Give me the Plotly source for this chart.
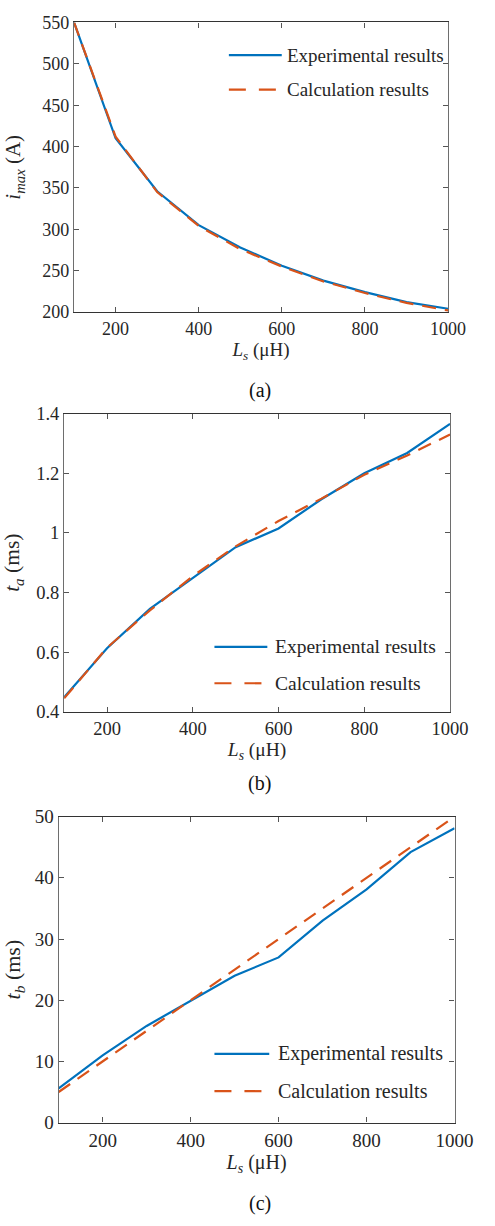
import plotly.graph_objects as go

# ---------------- data ----------------
Ls = [100, 200, 300, 400, 500, 600, 700, 800, 900, 1000]

imax_exp = [550, 410, 346, 305, 278, 256, 238, 224, 212, 204]
imax_calc = [550, 412, 345, 304, 276, 255, 237, 223, 211, 202]

ta_exp = [0.449, 0.613, 0.745, 0.847, 0.952, 1.015, 1.113, 1.200, 1.268, 1.366]
ta_calc = [0.445, 0.615, 0.740, 0.855, 0.955, 1.040, 1.115, 1.195, 1.260, 1.330]

tb_exp = [5.6, 11.0, 15.8, 19.9, 24.0, 27.0, 33.0, 38.1, 44.2, 48.1]
tb_calc = [5.0, 10.0, 15.0, 20.0, 25.0, 30.0, 35.0, 40.0, 45.0, 50.0]

x_ticks = [200, 400, 600, 800, 1000]
ya_ticks = [200, 250, 300, 350, 400, 450, 500, 550]
yb_ticks = [0.4, 0.6, 0.8, 1.0, 1.2, 1.4]
yb_labels = ["0.4", "0.6", "0.8", "1", "1.2", "1.4"]
yc_ticks = [0, 10, 20, 30, 40, 50]

names = ["Experimental results", "Calculation results"]
panel_labels = ["(a)", "(b)", "(c)"]
y_titles = ["<i>i</i><sub><i>max</i></sub> (A)",
            "<i>t</i><sub><i>a</i></sub> (ms)",
            "<i>t</i><sub><i>b</i></sub> (ms)"]
x_title = "<i>L</i><sub><i>s</i></sub> (μH)"

# ---------------- styling ----------------
W, H = 495, 1226
BLUE = "#0072BD"
ORANGE = "#D95319"
FONT = "Liberation Serif"
TXT = "#262626"


def px_x(p):
    return p / W


def px_y(p):
    return 1 - p / H


# plot boxes in pixels: (left, right, top, bottom)
boxes = [(77, 466, 12.7, 307.3), (66.7, 468, 410.7, 714), (61, 472.7, 820.7, 1132)]
tick_sizes = [18, 18.5, 19]
leg_sizes = [19, 19.5, 20]
ytitle_standoff = [15, 11, 13]

fig = go.Figure()

series = [(imax_exp, imax_calc), (ta_exp, ta_calc), (tb_exp, tb_calc)]
for i, (e, c) in enumerate(series):
    sfx = "" if i == 0 else str(i + 1)
    fig.add_trace(go.Scatter(x=Ls, y=e, mode="lines", name=names[0],
                             line=dict(color=BLUE, width=2.2),
                             xaxis="x" + sfx, yaxis="y" + sfx, showlegend=False))
    fig.add_trace(go.Scatter(x=Ls, y=c, mode="lines", name=names[1],
                             line=dict(color=ORANGE, width=2.2, dash="14px,9px"),
                             xaxis="x" + sfx, yaxis="y" + sfx, showlegend=False))

yranges = [[200, 550], [0.4, 1.4], [0, 50]]
yticks = [(ya_ticks, [str(v) for v in ya_ticks]), (yb_ticks, yb_labels),
          (yc_ticks, [str(v) for v in yc_ticks])]

layout = dict(width=W, height=H, autosize=False, margin=dict(l=0, r=0, t=0, b=0),
              paper_bgcolor="white", plot_bgcolor="white",
              font=dict(family=FONT, color=TXT), showlegend=False)

for i in range(3):
    sfx = "" if i == 0 else str(i + 1)
    l, r, t, b = boxes[i]
    fs = tick_sizes[i]
    layout["xaxis" + sfx] = dict(
        domain=[px_x(l), px_x(r)], range=[100, 1000], anchor="y" + sfx,
        tickvals=x_ticks, ticktext=[str(v) for v in x_ticks],
        ticks="inside", ticklen=5, tickcolor="#555", tickwidth=1,
        showline=True, linecolor="#333", linewidth=1.3, mirror="ticks",
        showgrid=False, zeroline=False,
        tickfont=dict(family=FONT, size=fs, color=TXT),
        title=dict(text=x_title, font=dict(family=FONT, size=fs + 1, color=TXT), standoff=4),
    )
    layout["yaxis" + sfx] = dict(
        domain=[px_y(b), px_y(t)], range=yranges[i], anchor="x" + sfx,
        tickvals=yticks[i][0], ticktext=yticks[i][1],
        ticks="inside", ticklen=5, tickcolor="#555", tickwidth=1,
        showline=True, linecolor="#6e6e6e", linewidth=1.3, mirror="ticks",
        showgrid=False, zeroline=False,
        tickfont=dict(family=FONT, size=fs, color=TXT),
        title=dict(text=y_titles[i], font=dict(family=FONT, size=fs + 3, color=TXT),
                   standoff=ytitle_standoff[i]),
    )

fig.update_layout(**layout)

# manual legends (line samples + labels) to mimic the MATLAB legend look
legends = [
    dict(x0=238, x1=293, ye=46, yc=81, tx=296),
    dict(x0=223, x1=278, ye=648, yc=685, tx=284),
    dict(x0=223, x1=280, ye=1062, yc=1100, tx=287),
]
for i, lg in enumerate(legends):
    fig.add_shape(type="line", xref="paper", yref="paper",
                  x0=px_x(lg["x0"]), x1=px_x(lg["x1"]), y0=px_y(lg["ye"]), y1=px_y(lg["ye"]),
                  line=dict(color=BLUE, width=2.2))
    fig.add_shape(type="line", xref="paper", yref="paper",
                  x0=px_x(lg["x0"]), x1=px_x(lg["x1"]), y0=px_y(lg["yc"]), y1=px_y(lg["yc"]),
                  line=dict(color=ORANGE, width=2.2, dash="17px,13px"))
    for name, yy in ((names[0], lg["ye"]), (names[1], lg["yc"])):
        fig.add_annotation(xref="paper", yref="paper", x=px_x(lg["tx"]), y=px_y(yy),
                           text=name, showarrow=False, xanchor="left", yanchor="middle",
                           font=dict(family=FONT, size=leg_sizes[i], color=TXT))

# panel labels
for lab, yy in zip(panel_labels, [387, 787, 1214]):
    fig.add_annotation(xref="paper", yref="paper", x=px_x(270), y=px_y(yy),
                       text=lab, showarrow=False, xanchor="center", yanchor="middle",
                       font=dict(family=FONT, size=20, color="#111"))

fig.write_html(
    "out.html",
    config={"responsive": False},
    post_script="document.body.style.margin='0';document.body.style.overflow='hidden';",
)
